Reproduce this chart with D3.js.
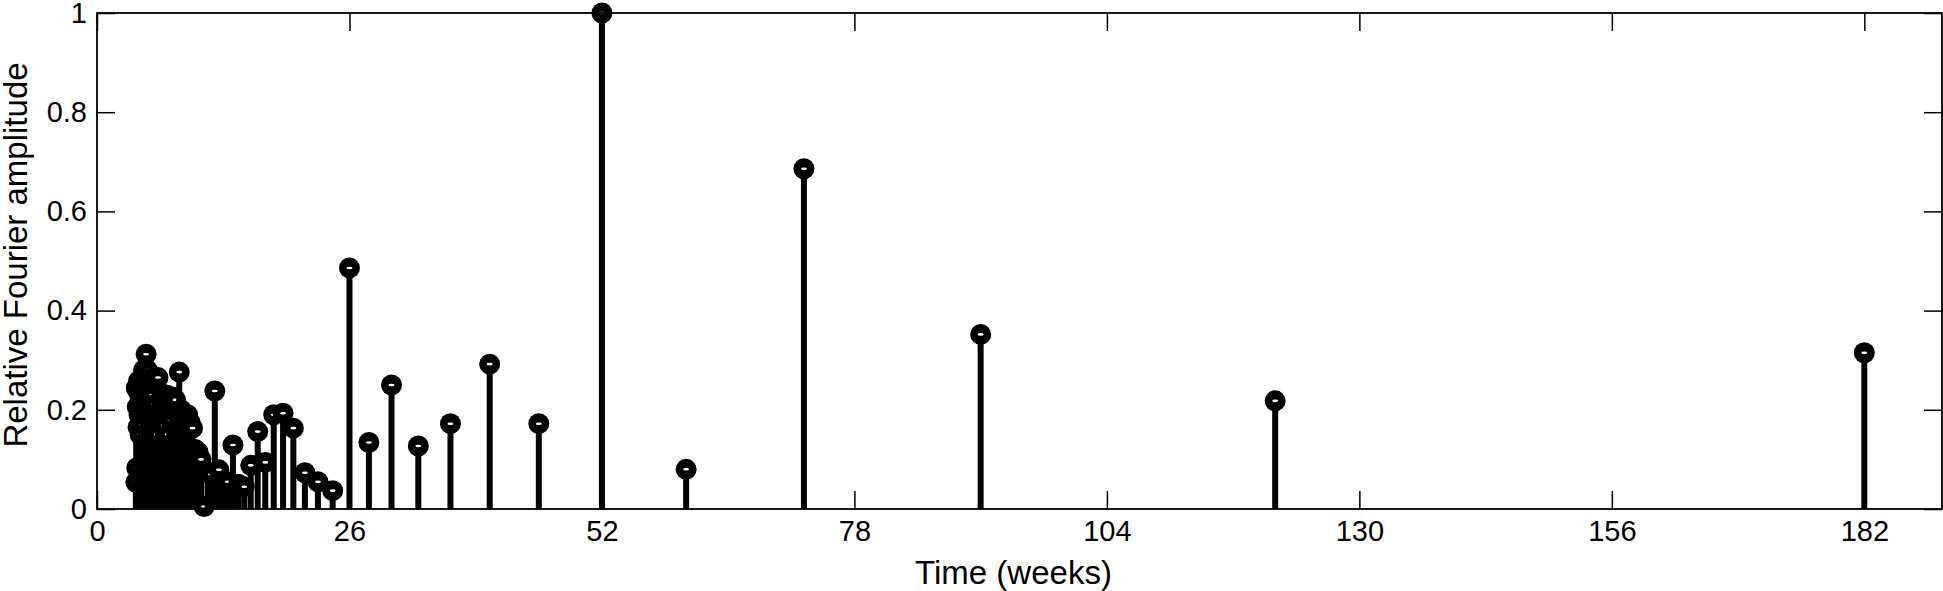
<!DOCTYPE html>
<html>
<head>
<meta charset="utf-8">
<script src="https://cdn.jsdelivr.net/npm/d3@7"></script>
<style>
  html, body { margin: 0; padding: 0; background: #fff; }
  svg { display: block; }
  text { font-family: "Liberation Sans", Arial, sans-serif; fill: #000; }
</style>
</head>
<body>
<svg id="chart" width="1943" height="591"></svg>
<script>
// Periods (weeks) of the Fourier components
const periods = [
  182, 121.33, 91, 72.8, 60.67, 52, 45.5, 40.44, 36.4, 33.09,
  30.33, 28, 26, 24.27, 22.75, 21.41, 20.22, 19.16, 18.2, 17.33,
  16.55, 15.83, 15.17, 14.56, 14.0, 13.48, 13.0, 12.55, 12.13, 11.74,
  11.38, 11.03, 10.71, 10.4, 10.11, 9.84, 9.58, 9.33, 9.1, 8.88,
  8.67, 8.47, 8.27, 8.09, 7.91, 7.74, 7.58, 7.43, 7.28, 7.14,
  7.0, 6.87, 6.74, 6.62, 6.5, 6.39, 6.28, 6.17, 6.07, 5.97,
  5.87, 5.78, 5.69, 5.6, 5.52, 5.43, 5.35, 5.28, 5.2, 5.13,
  5.06, 4.99, 4.92, 4.85, 4.79, 4.73, 4.67, 4.61, 4.55, 4.49,
  4.44, 4.39, 4.33, 4.28, 4.23, 4.18, 4.14, 4.09, 4.04, 4.0
];
// Relative Fourier amplitudes
const amplitudes = [
  0.315, 0.218, 0.352, 0.686, 0.08, 1.0, 0.172, 0.292, 0.172, 0.127,
  0.25, 0.134, 0.486, 0.037, 0.055, 0.073, 0.163, 0.193, 0.19, 0.094,
  0.156, 0.088, 0.045, 0.05, 0.129, 0.055, 0.042, 0.079, 0.238, 0.07,
  0.075, 0.005, 0.1, 0.115, 0.12, 0.163, 0.175, 0.19, 0.16, 0.185,
  0.2, 0.276, 0.19, 0.22, 0.21, 0.226, 0.18, 0.2, 0.15, 0.23,
  0.21, 0.17, 0.22, 0.2, 0.2, 0.19, 0.265, 0.15, 0.25, 0.18,
  0.21, 0.14, 0.23, 0.2, 0.17, 0.25, 0.262, 0.2, 0.28, 0.22,
  0.312, 0.24, 0.26, 0.19, 0.28, 0.21, 0.17, 0.24, 0.26, 0.2,
  0.15, 0.23, 0.19, 0.258, 0.165, 0.24, 0.206, 0.083, 0.244, 0.054
];
const xTicks = [0, 26, 52, 78, 104, 130, 156, 182];
const yTicks = [0, 0.2, 0.4, 0.6, 0.8, 1];
const xDomain = [0, 190];
const yDomain = [0, 1];
const xLabel = "Time (weeks)";
const yLabel = "Relative Fourier amplitude";

const svg = d3.select("#chart");
const L = 97, R = 1942, T = 13, B = 509;
const x = d3.scaleLinear().domain(xDomain).range([L, R]);
const y = d3.scaleLinear().domain(yDomain).range([B, T]);
const tickLen = 18;
const tickFont = 29;

const data = periods.map((p, i) => ({ p, a: amplitudes[i] }))
  .sort((u, v) => d3.ascending(u.p, v.p));

// stems + markers, drawn item by item
const items = svg.append("g").selectAll("g").data(data).join("g");
items.append("line")
  .attr("x1", d => x(d.p)).attr("x2", d => x(d.p))
  .attr("y1", y(0)).attr("y2", d => y(d.a))
  .attr("stroke", "#000").attr("stroke-width", 6);
items.append("circle")
  .attr("cx", d => x(d.p)).attr("cy", d => y(d.a))
  .attr("r", 10.5).attr("fill", "#000");
items.append("ellipse")
  .attr("cx", d => x(d.p)).attr("cy", d => y(d.a))
  .attr("rx", 3).attr("ry", 1.3).attr("fill", "#fff");

// axes box with inward ticks
const axB = d3.axisBottom(x).tickValues(xTicks).tickSizeInner(-tickLen).tickSizeOuter(0).tickPadding(11).tickFormat(d3.format("d"));
const axT = d3.axisTop(x).tickValues(xTicks).tickSizeInner(-tickLen).tickSizeOuter(0).tickFormat("");
const axLft = d3.axisLeft(y).tickValues(yTicks).tickSizeInner(-tickLen).tickSizeOuter(0).tickPadding(10).tickFormat(d => d === 0 || d === 1 ? String(d) : d3.format(".1f")(d));
const axRt = d3.axisRight(y).tickValues(yTicks).tickSizeInner(-tickLen).tickSizeOuter(0).tickFormat("");

function style(g) {
  g.select(".domain").remove();
  g.selectAll(".tick line").attr("stroke", "#000").attr("stroke-width", 1.5);
  g.selectAll(".tick text").attr("font-size", tickFont).attr("font-family", "Liberation Sans, Arial, sans-serif").attr("fill", "#000");
}
svg.append("g").attr("transform", `translate(0,${B})`).call(axB).call(style);
svg.append("g").attr("transform", `translate(0,${T})`).call(axT).call(style);
svg.append("g").attr("transform", `translate(${L},0)`).call(axLft).call(style);
svg.append("g").attr("transform", `translate(${R},0)`).call(axRt).call(style);

svg.append("rect").attr("x", L).attr("y", T).attr("width", R - L).attr("height", B - T)
  .attr("fill", "none").attr("stroke", "#000").attr("stroke-width", 1.8);

svg.append("text").attr("x", (L + R) / 2 - 6).attr("y", 584).attr("text-anchor", "middle")
  .attr("font-size", 33).text(xLabel);
svg.append("text").attr("transform", `translate(27,${(T + B) / 2 - 6}) rotate(-90)`).attr("text-anchor", "middle")
  .attr("font-size", 33).text(yLabel);
</script>
</body>
</html>
